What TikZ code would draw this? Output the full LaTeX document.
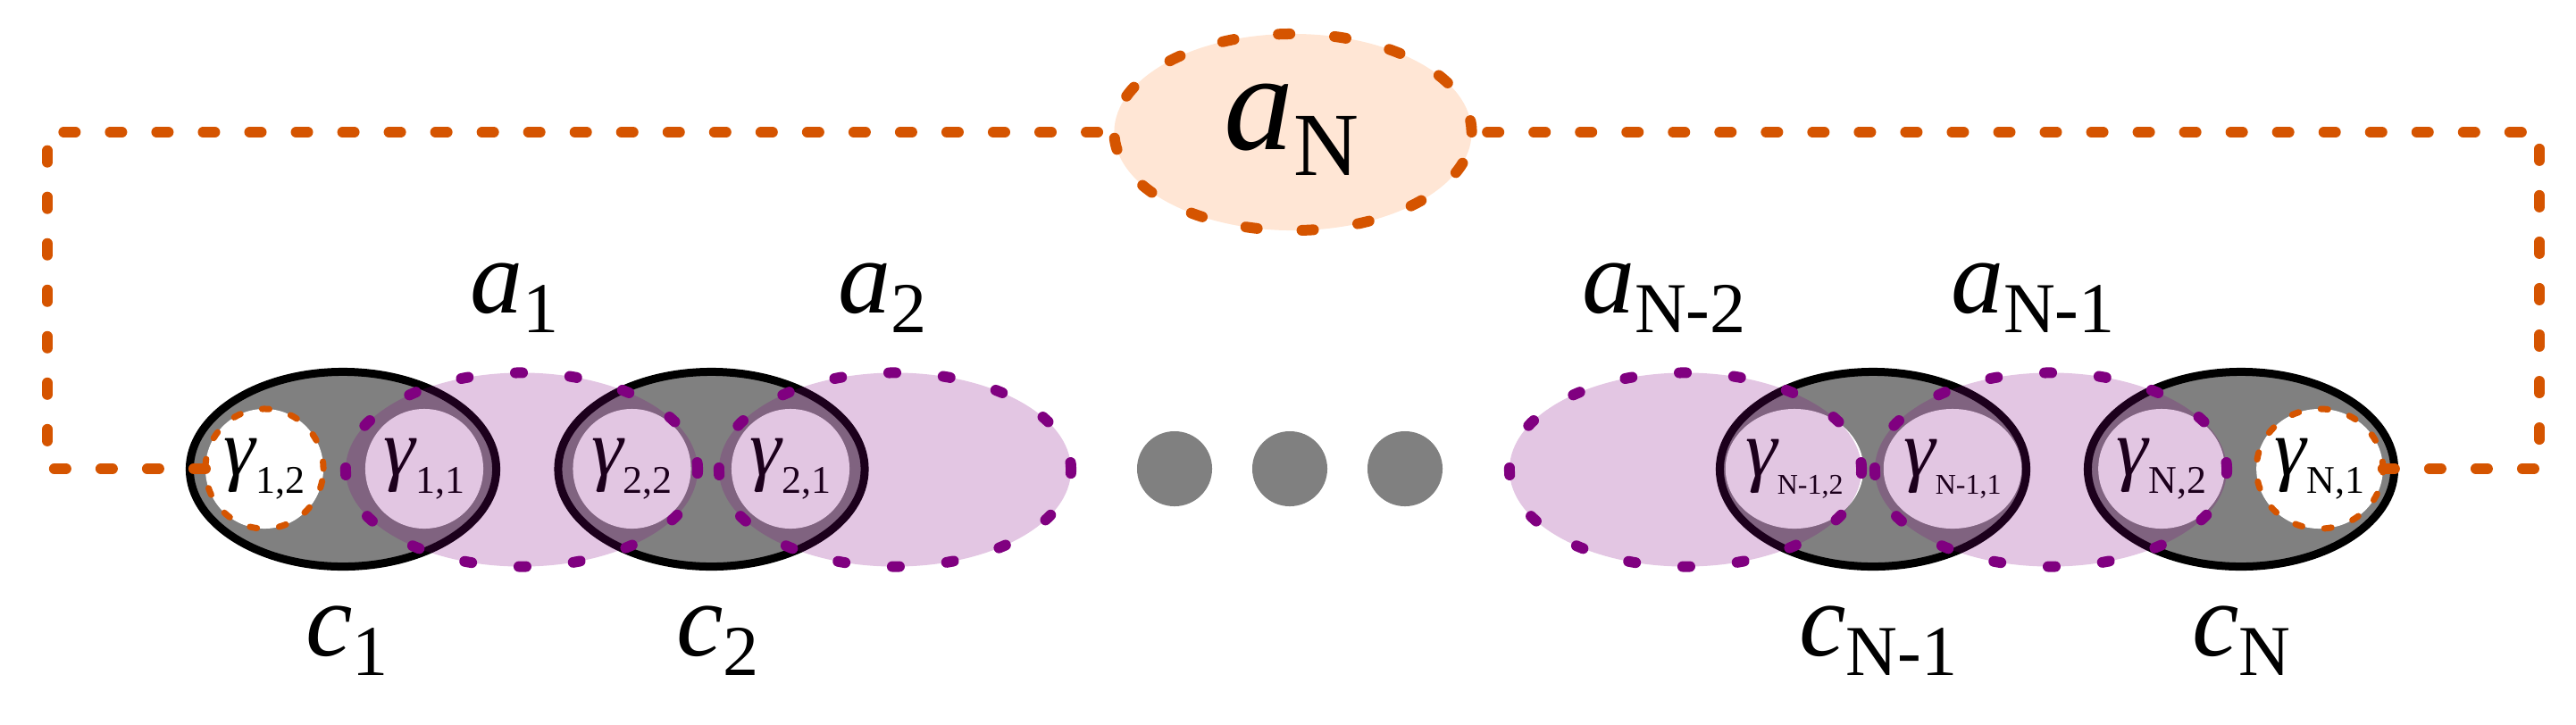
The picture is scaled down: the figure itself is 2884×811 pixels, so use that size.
\documentclass[tikz,border=0pt]{standalone}
\usepackage{fontspec}
\setmainfont{Liberation Serif}
\usetikzlibrary{shapes.geometric}
\definecolor{orng}{RGB}{213,84,0}
\definecolor{purp}{RGB}{128,0,128}
\definecolor{peach}{RGB}{255,230,213}
\definecolor{cgray}{RGB}{128,128,128}
\newcommand{\lblX}[5]{{\fontsize{#1}{#1}\selectfont\itshape #2}\raisebox{-#5}{\fontsize{#3}{#3}\selectfont #4}}
\newcommand{\lblAC}[2]{\lblX{33.6pt}{#1}{22.8pt}{#2}{6.5pt}}
\newcommand{\lblG}[1]{\lblX{25.6pt}{γ}{12.5pt}{#1}{5.7pt}}
\newcommand{\lblGs}[1]{\lblX{25.6pt}{γ}{9.1pt}{#1}{5.7pt}}
\tikzset{
  cell/.style={ellipse, draw=black, fill=cgray, line width=0.09cm, minimum width=3.43cm, minimum height=2.18cm, inner sep=0, outer sep=0},
  gam/.style={ellipse, fill=white, minimum width=1.32cm, minimum height=1.34cm, inner sep=0, outer sep=0},
  gend/.style={gam, draw=orng, line width=0.07cm, dash pattern=on 0.08cm off 0.25cm, line cap=round},
  anc/.style={ellipse, fill=purp, fill opacity=0.225, draw=purp, draw opacity=1, line width=0.12cm, dash pattern=on 0.08cm off 0.53cm, line cap=round, minimum width=3.94cm, minimum height=2.17cm, inner sep=0, outer sep=0},
  ancN/.style={ellipse, fill=peach, draw=orng, line width=0.12cm, dash pattern=on 0.13cm off 0.50cm, line cap=round, minimum width=4.0cm, minimum height=2.2cm, inner sep=0, outer sep=0},
  loopline/.style={draw=orng, line width=0.12cm, dash pattern=on 0.13cm off 0.39cm, line cap=round},
  dotnode/.style={circle, fill=cgray, minimum size=0.84cm, inner sep=0, outer sep=0},
  lab/.style={anchor=base west, inner sep=0, outer sep=0}
}
\begin{document}
\begin{tikzpicture}[x=0.01cm, y=-0.01cm]
\useasboundingbox (0,0) rectangle (2884,811);
% cells
\node[cell] (c1) at (384,525.5) {};
\node[cell] (c2) at (796.5,525.5) {};
\node[cell] (cN1) at (2097,525.5) {};
\node[cell] (cN) at (2509,525.5) {};
% gamma nodes
\node[gend] (g12) at (296,525) {\lblG{1,2}};
\node[gam] (g11) at (475,525) {\lblG{1,1}};
\node[gam] (g22) at (707.5,525) {\lblG{2,2}};
\node[gam] (g21) at (885,525) {\lblG{2,1}};
\node[gam] (gN12) at (2009,525) {\lblGs{N-1,2}};
\node[gam] (gN11) at (2186,525) {\lblGs{N-1,1}};
\node[gam] (gN2) at (2420,525) {\lblG{N,2}};
\node[gend] (gN1) at (2597,525) {\lblG{N,1}};
% dots
\node[dotnode] (d1) at (1315,525) {};
\node[dotnode] (d2) at (1444,525) {};
\node[dotnode] (d3) at (1573,525) {};
% a_N
\node[ancN] (aN) at (1447.5,148) {};
\coordinate (bl) at (53,525);
\coordinate (tl) at (53,148);
\coordinate (br) at (2843,525);
\coordinate (tr) at (2843,148);
\draw[loopline] (g12.west) -- (bl) -- (tl) -- (aN.west);
\draw[loopline] (gN1.east) -- (br) -- (tr) -- (aN.east);
% a ellipses
\node[anc] (a1) at (584,526) {};
\node[anc] (a2) at (1002,526) {};
\node[anc] (aN2) at (1887,526) {};
\node[anc] (aN1) at (2296,526) {};
% labels
\node[lab] (la1) at (526,350) {\lblAC{a}{1}};
\node[lab] (la2) at (938,350) {\lblAC{a}{2}};
\node[lab] (laN2) at (1771,350) {\lblAC{a}{N-2}};
\node[lab] (laN1) at (2184,350) {\lblAC{a}{N-1}};
\node[lab] (lc1) at (342,734) {\lblAC{c}{1}};
\node[lab] (lc2) at (757,734) {\lblAC{c}{2}};
\node[lab] (lcN1) at (2014,734) {\lblAC{c}{N-1}};
\node[lab] (lcN) at (2454,734) {\lblAC{c}{N}};
\node[lab] (laN) at (1370,167) {\lblX{44.4pt}{a}{28.7pt}{N}{8.5pt}};
\end{tikzpicture}
\end{document}
